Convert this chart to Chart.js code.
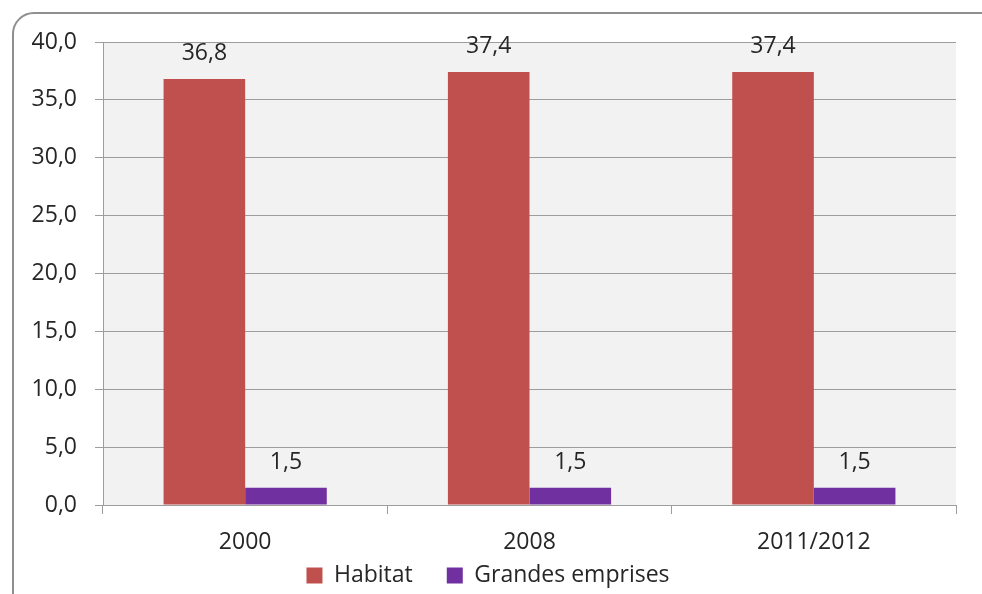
<!DOCTYPE html>
<html>
<head>
<meta charset="utf-8">
<script src="https://cdn.jsdelivr.net/npm/chart.js@4/dist/chart.umd.min.js"></script>
<style>
  html, body { margin: 0; padding: 0; background: #ffffff; }
  #wrap { position: relative; width: 982px; height: 594px; overflow: hidden; background: #fff; }
  #frame { position: absolute; left: 12px; top: 12px; width: 990px; height: 620px;
           border: 2px solid #8f8f8f; border-radius: 22px; box-sizing: border-box; }
  #c { position: absolute; left: 0; top: 0; }
</style>
</head>
<body>
<div id="wrap">
  <div id="frame"></div>
  <canvas id="c" width="982" height="594"></canvas>
</div>
<script>
const categories = ["2000", "2008", "2011/2012"];
const habitat = [36.8, 37.4, 37.4];
const grandesEmprises = [1.5, 1.5, 1.5];
const seriesNames = ["Habitat", "Grandes emprises"];
const yMin = 0, yMax = 40, yStep = 5;

const FONT = "'Open Sans', 'Liberation Sans', sans-serif";
const TEXT = "#262626";
const GRID = "#9d9d9d";

const fmt = v => Number(v).toFixed(1).replace('.', ',');

const plotBg = {
  id: 'plotBg',
  beforeDraw(chart) {
    const {ctx, chartArea: a} = chart;
    ctx.save();
    ctx.fillStyle = '#f2f2f2';
    ctx.fillRect(a.left, a.top, a.right - a.left, a.bottom - a.top);
    ctx.restore();
  }
};

const legendShift = {
  id: 'legendShift',
  afterLayout(chart) {
    const lg = chart.legend;
    if (lg) {
      lg.left += 10; lg.right += 10;
      lg.top -= 31; lg.bottom -= 31;
    }
  }
};

const valueLabels = {
  id: 'valueLabels',
  afterDatasetsDraw(chart) {
    const {ctx} = chart;
    ctx.save();
    ctx.font = "23px " + FONT;
    ctx.fillStyle = TEXT;
    ctx.textAlign = 'center';
    ctx.textBaseline = 'alphabetic';
    chart.data.datasets.forEach((ds, i) => {
      chart.getDatasetMeta(i).data.forEach((bar, j) => {
        ctx.fillText(fmt(ds.data[j]), bar.x, bar.y - 19);
      });
    });
    ctx.restore();
  }
};

new Chart(document.getElementById('c'), {
  type: 'bar',
  data: {
    labels: categories,
    datasets: [
      { label: seriesNames[0], data: habitat, backgroundColor: '#c0504d' },
      { label: seriesNames[1], data: grandesEmprises, backgroundColor: '#7030a0' }
    ]
  },
  options: {
    responsive: false,
    animation: false,
    devicePixelRatio: 1,
    layout: { padding: { top: 42, right: 26, bottom: -34, left: 0 } },
    datasets: { bar: { categoryPercentage: 0.574, barPercentage: 1.0 } },
    plugins: {
      legend: {
        position: 'bottom',
        labels: {
          font: { family: FONT, size: 23 },
          color: TEXT,
          boxWidth: 16,
          boxHeight: 16,
          padding: 34
        }
      },
      tooltip: { enabled: false }
    },
    scales: {
      x: {
        grid: { display: true, drawOnChartArea: false, drawTicks: true, tickLength: 9, color: GRID, offset: true },
        border: { display: true, color: GRID, width: 1 },
        ticks: { font: { family: FONT, size: 23 }, color: TEXT, padding: 15 },
        afterFit(scale) { scale.height = 56; }
      },
      y: {
        min: yMin, max: yMax,
        ticks: { stepSize: yStep, font: { family: FONT, size: 23 }, color: TEXT, padding: 18,
                 callback: v => fmt(v) },
        grid: { color: GRID, tickLength: 8 },
        border: { display: true, color: GRID, width: 1 },
        afterFit(scale) { scale.width = 103; }
      }
    }
  },
  plugins: [plotBg, legendShift, valueLabels]
});
</script>
</body>
</html>
